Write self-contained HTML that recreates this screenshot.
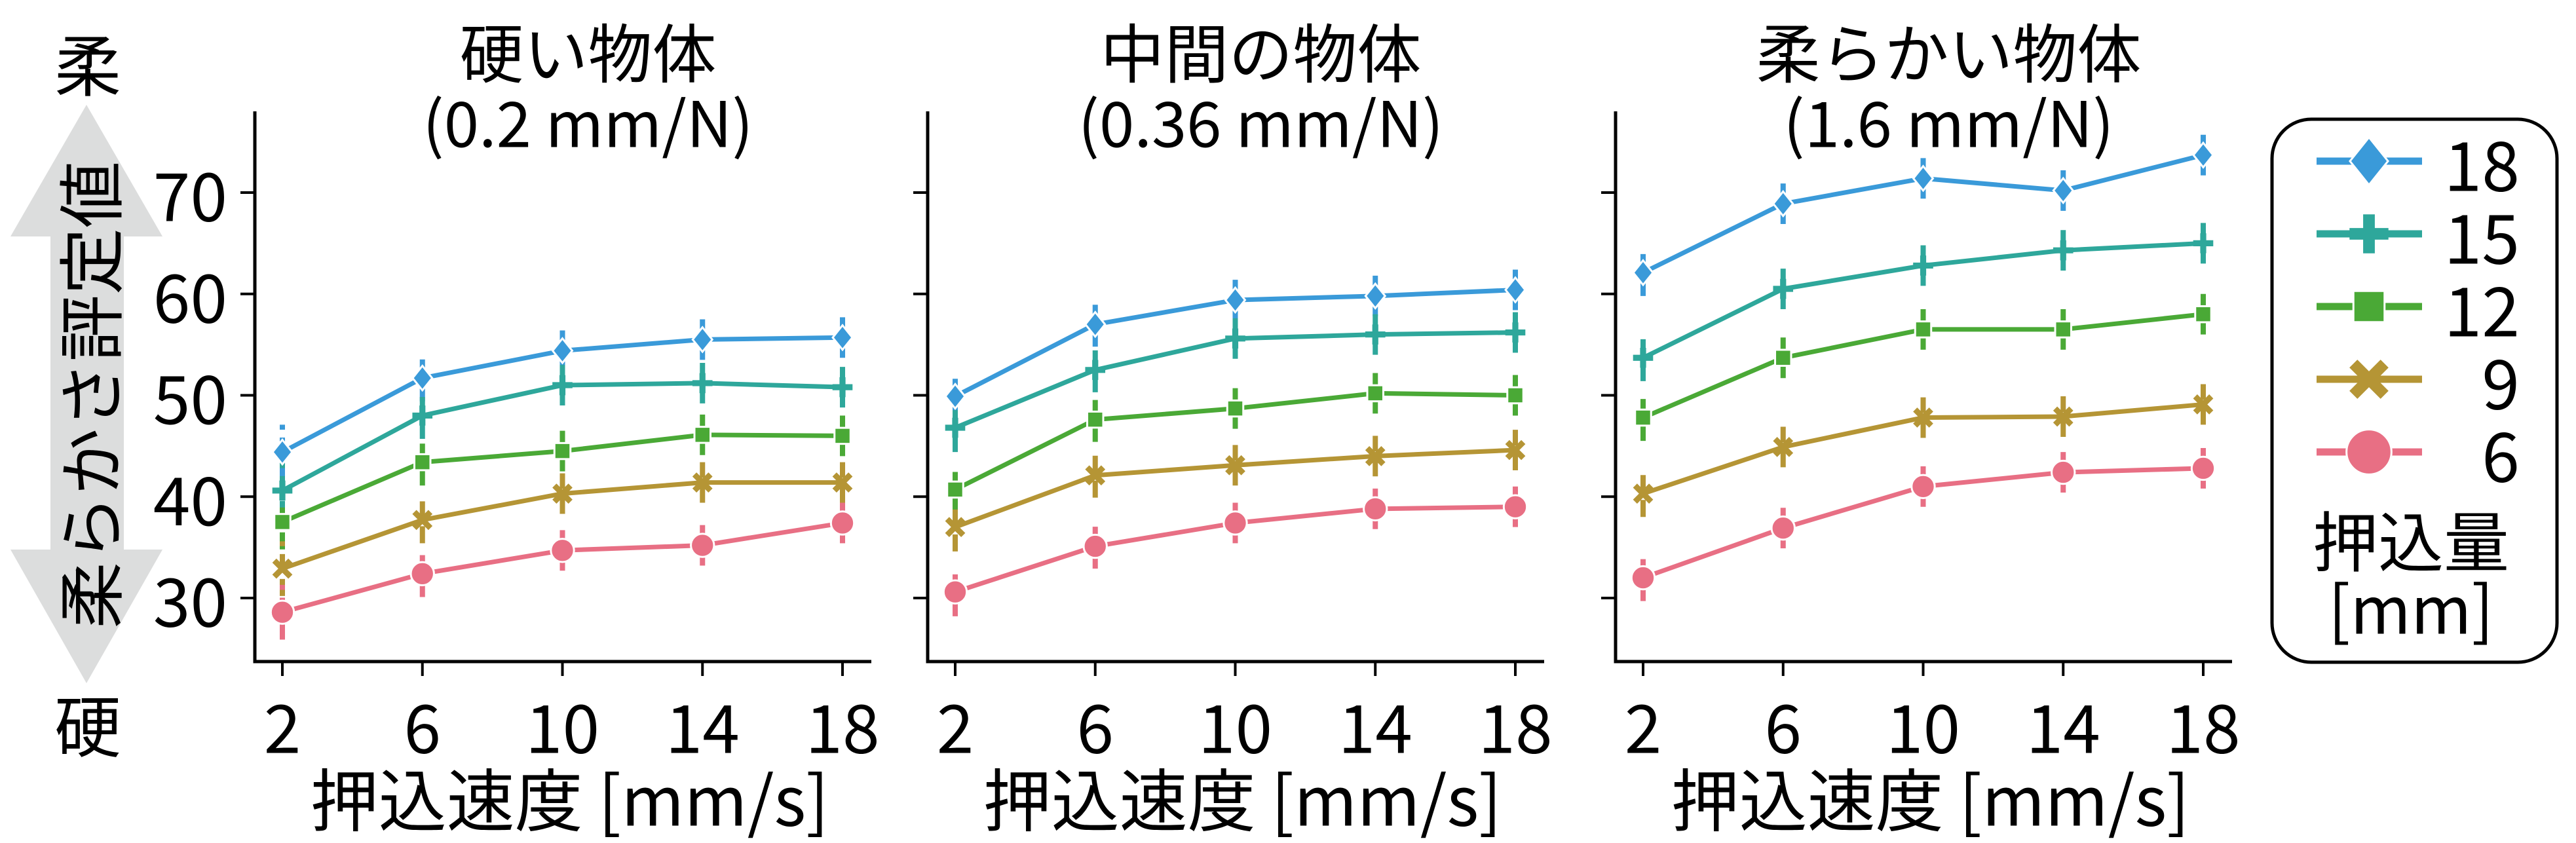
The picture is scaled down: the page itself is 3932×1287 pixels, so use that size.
<!DOCTYPE html>
<html><head><meta charset="utf-8">
<style>
html,body{margin:0;padding:0;background:#fff;}
svg{display:block;}
text{font-family:"Noto Sans CJK JP","Liberation Sans",sans-serif;fill:#000;}
</style></head>
<body>
<svg id="chart" width="3932" height="1287" viewBox="0 0 3932 1287" xmlns="http://www.w3.org/2000/svg">
  <g>
    <polygon points="132,160 248,361 189,361 189,839 248,839 132,1043 16,839 77,839 77,361 16,361" fill="#dcdddd"/>
    <text x="134" y="603" font-size="102" text-anchor="middle" dominant-baseline="central" transform="rotate(-90 134 603)">柔らかさ評定値</text>
    <text x="134" y="95" font-size="102" text-anchor="middle" dominant-baseline="central">柔</text>
    <text x="134" y="1104" font-size="102" text-anchor="middle" dominant-baseline="central">硬</text>
  </g>
  <g id="panels"></g>
  <g>
    <rect x="3468" y="182" width="435" height="829" rx="60" fill="#fff" stroke="#000" stroke-width="5"/>
    <g id="legend-items"></g>
    <text x="3680" y="821" font-size="100" text-anchor="middle" dominant-baseline="central">押込量</text>
    <text x="3680" y="924" font-size="100" text-anchor="middle" dominant-baseline="central">[mm]</text>
  </g>
</svg>
<script>
const speeds = [2, 6, 10, 14, 18];
const depths = [18, 15, 12, 9, 6];
const yTicks = [30, 40, 50, 60, 70];
const panelTitles = ["硬い物体", "中間の物体", "柔らかい物体"];
const panelSubtitles = ["(0.2 mm/N)", "(0.36 mm/N)", "(1.6 mm/N)"];
// panel 1 (hard)
const hard18 = [44.4, 51.7, 54.4, 55.5, 55.7];
const hard15 = [40.6, 48.0, 51.0, 51.2, 50.8];
const hard12 = [37.5, 43.4, 44.5, 46.1, 46.0];
const hard9 = [32.9, 37.7, 40.3, 41.4, 41.4];
const hard6 = [28.6, 32.4, 34.7, 35.2, 37.4];
// panel 2 (medium)
const mid18 = [49.9, 57.0, 59.4, 59.8, 60.4];
const mid15 = [46.8, 52.5, 55.6, 56.0, 56.2];
const mid12 = [40.7, 47.6, 48.7, 50.2, 50.0];
const mid9 = [37.0, 42.1, 43.1, 44.0, 44.6];
const mid6 = [30.6, 35.1, 37.4, 38.8, 39.0];
// panel 3 (soft)
const soft18 = [62.1, 68.9, 71.4, 70.2, 73.7];
const soft15 = [53.7, 60.5, 62.8, 64.3, 65.0];
const soft12 = [47.8, 53.7, 56.5, 56.5, 58.0];
const soft9 = [40.3, 44.9, 47.8, 47.9, 49.1];
const soft6 = [32.0, 36.9, 41.0, 42.4, 42.8];
// error half-widths
const errHard = [2.7, 2.3, 2.0, 2.0, 2.0];
const errMid = [2.4, 2.2, 2.0, 2.0, 2.0];
const errSoft = [2.3, 2.0, 2.0, 2.0, 2.0];

const panelData = [[hard18, hard15, hard12, hard9, hard6],[mid18, mid15, mid12, mid9, mid6],[soft18, soft15, soft12, soft9, soft6]];
const panelErr = [errHard, errMid, errSoft];
const colors = ["#3a9ad9", "#2ea79b", "#4aa936", "#b59535", "#e86f84"];
const markers = ["diamond", "plus", "square", "x", "circle"];
const axLeft = [389, 1416, 2466];
const NS = "http://www.w3.org/2000/svg";
function mk(tag, attrs, parent){const e=document.createElementNS(NS,tag);for(const k in attrs)e.setAttribute(k,attrs[k]);parent.appendChild(e);return e;}
function yScale(v){return 913 - (v-30)*15.475;}
function xScaleFor(p){return s => axLeft[p] + 42 + (s-2)/16*855;}

function drawMarker(g, type, x, y, color, size){
  const sw = size/5;
  let el;
  if(type==="circle"){el=mk("circle",{cx:x,cy:y,r:size*0.52,fill:color,stroke:"#fff","stroke-width":3},g);}
  else if(type==="square"){const h=size*0.36;el=mk("rect",{x:x-h,y:y-h,width:2*h,height:2*h,fill:color,stroke:"#fff","stroke-width":3},g);}
  else if(type==="diamond"){const h=size*0.55;el=mk("polygon",{points:`${x},${y-h} ${x+h*0.8},${y} ${x},${y+h} ${x-h*0.8},${y}`,fill:color,stroke:"#fff","stroke-width":3},g);}
  else if(type==="plus"){const h=size*0.45;el=mk("path",{d:`M${x-h},${y}H${x+h}M${x},${y-h}V${y+h}`,stroke:color,"stroke-width":sw*1.35,fill:"none"},g);}
  else {const h=size*0.36;el=mk("path",{d:`M${x-h},${y-h}L${x+h},${y+h}M${x-h},${y+h}L${x+h},${y-h}`,stroke:color,"stroke-width":sw*1.3,fill:"none"},g);}
  return el;
}

const panels = document.getElementById("panels");
for(let p=0;p<3;p++){
  const xs = xScaleFor(p);
  const g = mk("g",{},panels);
  
  
  const L = axLeft[p], R = L+941;
  const cx = (L+R)/2 + 38;
  const t1 = mk("text",{x:cx,y:76,"font-size":98,"text-anchor":"middle","dominant-baseline":"central"},g);
  t1.textContent = panelTitles[p];
  
  
  const t2 = mk("text",{x:cx,y:183,"font-size":96,"text-anchor":"middle","dominant-baseline":"central"},g);
  t2.textContent = panelSubtitles[p];
  
  
  const ax = mk("path",{d:`M${L},170V1010H${R}`,stroke:"#000","stroke-width":5,fill:"none"},g);
  
  
  yTicks.forEach(v=>{
    const y=yScale(v);
    const tk = mk("line",{x1:L-22,x2:L,y1:y,y2:y,stroke:"#000","stroke-width":4},g);
    
    
    if(p===0){
      const tl = mk("text",{x:L-42,y:y,"font-size":102,"text-anchor":"end","dominant-baseline":"central"},g);
      tl.textContent = v;
      
      
    }
  });
  speeds.forEach(s=>{
    const x=xs(s);
    const tk = mk("line",{x1:x,x2:x,y1:1010,y2:1032,stroke:"#000","stroke-width":4},g);
    
    
    const tl = mk("text",{x:x,y:1106,"font-size":102,"text-anchor":"middle","dominant-baseline":"central"},g);
    tl.textContent = s;
    
    
  });
  const xl = mk("text",{x:(L+R)/2+10,y:1215,"font-size":104,"text-anchor":"middle","dominant-baseline":"central"},g);
  xl.textContent = "押込速度 [mm/s]";
  
  
  const data = panelData[p], err = panelErr[p];
  data.forEach((ser,i)=>{
    ser.forEach((v,j)=>{
      const x=xs(speeds[j]);
      const eb = mk("line",{x1:x,x2:x,y1:yScale(v-err[j]),y2:yScale(v+err[j]),stroke:colors[i],"stroke-width":8,"stroke-dasharray":"26 12"},g);
      
      
    });
  });
  data.forEach((ser,i)=>{
    const pts = ser.map((v,j)=>xs(speeds[j])+","+yScale(v)).join(" ");
    const ln = mk("polyline",{points:pts,fill:"none",stroke:colors[i],"stroke-width":7,"stroke-linejoin":"round"},g);
    
    
    ser.forEach((v,j)=>{
      const m = drawMarker(g, markers[i], xs(speeds[j]), yScale(v), colors[i], 34);
      
      
    });
  });
}
const lg = document.getElementById("legend-items");
depths.forEach((d,i)=>{
  const y = 246 + i*111;
  const g = mk("g",{},lg);
  
  
  mk("line",{x1:3536,x2:3697,y1:y,y2:y,stroke:colors[i],"stroke-width":11},g);
  drawMarker(g, markers[i], 3616, y, colors[i], 66);
  const t = mk("text",{x:3846,y:y,"font-size":104,"text-anchor":"end","dominant-baseline":"central"},g);
  t.textContent = d;
  
  
});
</script>
</body></html>
